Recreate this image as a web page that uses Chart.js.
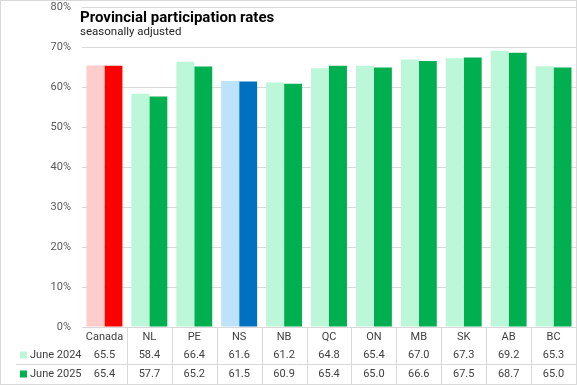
<!DOCTYPE html>
<html lang="en">
<head>
  <meta charset="UTF-8">
  <title>Provincial participation rates</title>
  <script src="https://cdn.jsdelivr.net/npm/chart.js"></script>
  <style>
    html, body { margin: 0; padding: 0; background: #ffffff; }
    #wrap { width: 577px; height: 385px; position: relative; }
  </style>
</head>
<body>
  <div id="wrap"><canvas id="mainChart"></canvas></div>
  <script>
    // chart data
    const regions = ['Canada', 'NL', 'PE', 'NS', 'NB', 'QC', 'ON', 'MB', 'SK', 'AB', 'BC'];
    const june2024 = [65.5, 58.4, 66.4, 61.6, 61.2, 64.8, 65.4, 67.0, 67.3, 69.2, 65.3];
    const june2025 = [65.4, 57.7, 65.2, 61.5, 60.9, 65.4, 65.0, 66.6, 67.5, 68.7, 65.0];
    const seriesNames = ['June 2024', 'June 2025'];
    const yTicks = [0, 10, 20, 30, 40, 50, 60, 70, 80];

    // Canada in red, NS in blue, the rest green
    const light = regions.map(r => r === 'Canada' ? '#ffcccc' : r === 'NS' ? '#bde3fa' : '#bdf7d9');
    const dark = regions.map(r => r === 'Canada' ? '#ff0000' : r === 'NS' ? '#0070c0' : '#00b050');

    const textColor = '#404040';
    const lineColor = '#d9d9d9';
    const font = 'Roboto, "Liberation Sans", Arial, sans-serif';

    // title, data table and outer frame
    const extras = {
      id: 'extras',
      afterDraw(chart) {
        const ctx = chart.ctx;
        const area = chart.chartArea;
        const x = chart.scales.x;
        const colW = (area.right - area.left) / regions.length;
        ctx.save();

        ctx.fillStyle = '#000000';
        ctx.textAlign = 'left';
        ctx.textBaseline = 'alphabetic';
        ctx.font = 'bold 15px ' + font;
        ctx.fillText('Provincial participation rates', 80, 22);
        ctx.fillStyle = '#262626';
        ctx.font = '11.5px ' + font;
        ctx.fillText('seasonally adjusted', 80, 35);

        // table grid
        ctx.strokeStyle = lineColor;
        ctx.lineWidth = 1;
        ctx.beginPath();
        for (let i = 1; i < regions.length; i++) {
          const lx = Math.round(area.left + i * colW) + 0.5;
          ctx.moveTo(lx, area.bottom);
          ctx.lineTo(lx, 384);
        }
        ctx.moveTo(16, 364.5);
        ctx.lineTo(577, 364.5);
        ctx.stroke();

        // table text
        ctx.fillStyle = textColor;
        ctx.font = '11px ' + font;
        ctx.textAlign = 'center';
        ctx.textBaseline = 'middle';
        const rowY = [337, 355, 374];
        regions.forEach((r, i) => {
          const cx = x.getPixelForValue(i);
          ctx.fillText(r, cx, rowY[0]);
          ctx.fillText(june2024[i].toFixed(1), cx, rowY[1]);
          ctx.fillText(june2025[i].toFixed(1), cx, rowY[2]);
        });

        // legend keys in the table
        ctx.textAlign = 'left';
        [light[1], dark[1]].forEach((c, k) => {
          ctx.fillStyle = c;
          ctx.fillRect(20, rowY[k + 1] - 3.5, 7, 7);
          ctx.fillStyle = textColor;
          ctx.fillText(seriesNames[k], 30, rowY[k + 1]);
        });

        // frame
        ctx.strokeStyle = lineColor;
        ctx.strokeRect(0.5, 0.5, 576, 384);
        ctx.restore();
      }
    };

    new Chart(document.getElementById('mainChart'), {
      type: 'bar',
      data: {
        labels: regions,
        datasets: [
          { label: seriesNames[0], data: june2024, backgroundColor: light },
          { label: seriesNames[1], data: june2025, backgroundColor: dark }
        ]
      },
      options: {
        responsive: true,
        maintainAspectRatio: false,
        animation: false,
        categoryPercentage: 0.8,
        barPercentage: 1.0,
        layout: { padding: { top: 0, right: 1, bottom: 0, left: 0 } },
        plugins: {
          legend: { display: false },
          title: { display: false },
          tooltip: { enabled: false }
        },
        scales: {
          x: {
            grid: { display: false },
            border: { display: true, color: lineColor },
            ticks: { display: false },
            afterFit(scale) { scale.height = 58; }
          },
          y: {
            min: 0,
            max: 80,
            afterBuildTicks(scale) { scale.ticks = yTicks.map(v => ({ value: v })); },
            ticks: {
              padding: 2,
              color: '#595959',
              font: { family: font, size: 11, lineHeight: 1 },
              callback: v => v + '%'
            },
            // invisible tick marks push the labels off the plot edge
            grid: { color: lineColor, drawTicks: true, tickLength: 9, tickColor: 'rgba(0,0,0,0)' },
            border: { display: false },
            afterFit(scale) { scale.width = 82; }
          }
        }
      },
      plugins: [extras]
    });
  </script>
</body>
</html>
